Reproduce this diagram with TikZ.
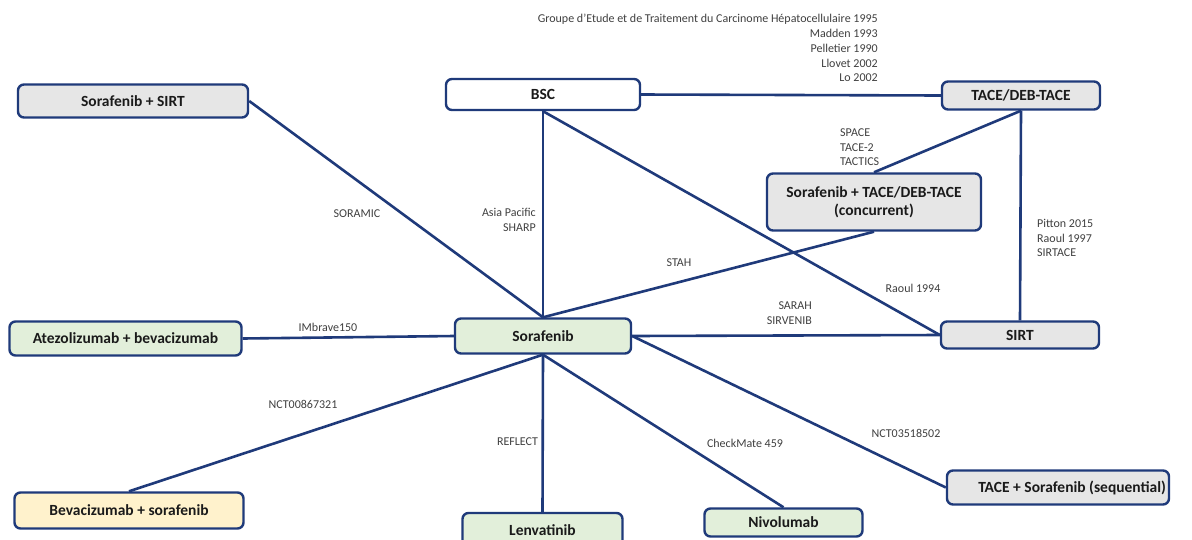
\documentclass[tikz,border=0pt]{standalone}
\usepackage{fontspec}
\setmainfont{Carlito}
\definecolor{navy}{HTML}{1F3A7A}
\definecolor{boxgray}{HTML}{E6E6E6}
\definecolor{boxgreen}{HTML}{E2EFDA}
\definecolor{boxyellow}{HTML}{FFF2CC}
\definecolor{boxtxt}{HTML}{1A1A1A}
\definecolor{lbltxt}{HTML}{404040}
\begin{document}
\begin{tikzpicture}[x=1pt,y=-1pt,
  box/.style={draw=navy, line width=2.4pt, rounded corners=6pt, font=\fontsize{15.5}{18}\selectfont\bfseries, text=boxtxt, inner sep=0pt, align=center},
  wbox/.style={box, fill=white},
  gbox/.style={box, fill=boxgray},
  grbox/.style={box, fill=boxgreen},
  ybox/.style={box, fill=boxyellow},
  boxtext/.style={font=\fontsize{15.5}{18}\selectfont\bfseries, text=boxtxt, inner sep=0pt},
  lbl/.style={font=\fontsize{12}{14.6}\selectfont, text=lbltxt, inner sep=0pt},
  edge/.style={draw=navy, line width=2.6pt}
]
\useasboundingbox (0,0) rectangle (1192,539);
\clip (0,0) rectangle (1192,539);
\fill[white] (0,0) rectangle (1192,539);

% nodes
\node[gbox, minimum width=230, minimum height=33] (ssirt) at (133,101) {Sorafenib + SIRT};
\node[wbox, minimum width=194, minimum height=31] (bsc) at (543,94.5) {BSC};
\node[gbox, minimum width=158, minimum height=28] (tace) at (1021,95.5) {TACE/DEB-TACE};
\node[gbox, minimum width=214, minimum height=57] (conc) at (874,202) {Sorafenib + TACE/DEB-TACE\\(concurrent)};
\node[gbox, minimum width=158, minimum height=27] (sirt) at (1020,335) {SIRT};
\node[grbox, minimum width=232, minimum height=34] (atezo) at (125.5,338.5) {Atezolizumab + bevacizumab};
\node[grbox, minimum width=176, minimum height=35] (soraf) at (543,336) {Sorafenib};
\node[ybox, minimum width=229, minimum height=36] (beva) at (129,510.5) {Bevacizumab + sorafenib};
\node[grbox, minimum width=160, minimum height=34] (lenv) at (542.5,530) {Lenvatinib};
\node[grbox, minimum width=158, minimum height=28] (nivo) at (783.5,522.5) {Nivolumab};
\node[gbox, minimum width=222, minimum height=34] (seq) at (1058,487.5) {};
\node[boxtext, anchor=east] (seqtxt) at ([xshift=-4pt]seq.east) {TACE + Sorafenib (sequential)};

% connectors
\draw[edge] (ssirt.east) -- (soraf.north);
\draw[edge] (bsc.south) -- (soraf.north);
\draw[edge] (bsc.south) -- (sirt.west);
\draw[edge] (bsc.east) -- (tace.west);
\draw[edge] (tace.south) -- (conc.north);
\draw[edge] (tace.south) -- (sirt.north);
\draw[edge] (conc.south) -- (soraf.north);
\draw[edge] (soraf.east) -- (sirt.west);
\draw[edge] (atezo.east) -- (soraf.west);
\draw[edge] (soraf.south) -- (beva.north);
\draw[edge] (soraf.south) -- (lenv.north);
\draw[edge] (soraf.south) -- (nivo.north);
\draw[edge] (soraf.east) -- (seq.west);

% labels
\node[lbl, anchor=north east, align=right, font=\fontsize{12}{14.8}\selectfont] (refs) at (878,14) {Groupe d'Etude et de Traitement du Carcinome Hépatocellulaire 1995\\Madden 1993\\Pelletier 1990\\Llovet 2002\\Lo 2002};
\node[lbl, anchor=west, align=left] (ltacetrials) at (840,147.5) {SPACE\\TACE-2\\TACTICS};
\node[lbl, anchor=west, align=left] (lsirtace) at (1037,238) {Pitton 2015\\Raoul 1997\\SIRTACE};
\node[lbl, anchor=east, align=right] (lsharp) at (536,220) {Asia Pacific\\SHARP};
\node[lbl] (lstah) at (679,263) {STAH};
\node[lbl] (lraoul) at (913,288) {Raoul 1994};
\node[lbl, anchor=east, align=right] (lsarah) at (812,313) {SARAH\\SIRVENIB};
\node[lbl] (limb) at (328,327) {IMbrave150};
\node[lbl] (lsoramic) at (357,214) {SORAMIC};
\node[lbl] (lnct1) at (303,404) {NCT00867321};
\node[lbl] (lreflect) at (517.5,442) {REFLECT};
\node[lbl] (lcheck) at (745,443) {CheckMate 459};
\node[lbl] (lnct2) at (906,433) {NCT03518502};
\end{tikzpicture}
\end{document}
